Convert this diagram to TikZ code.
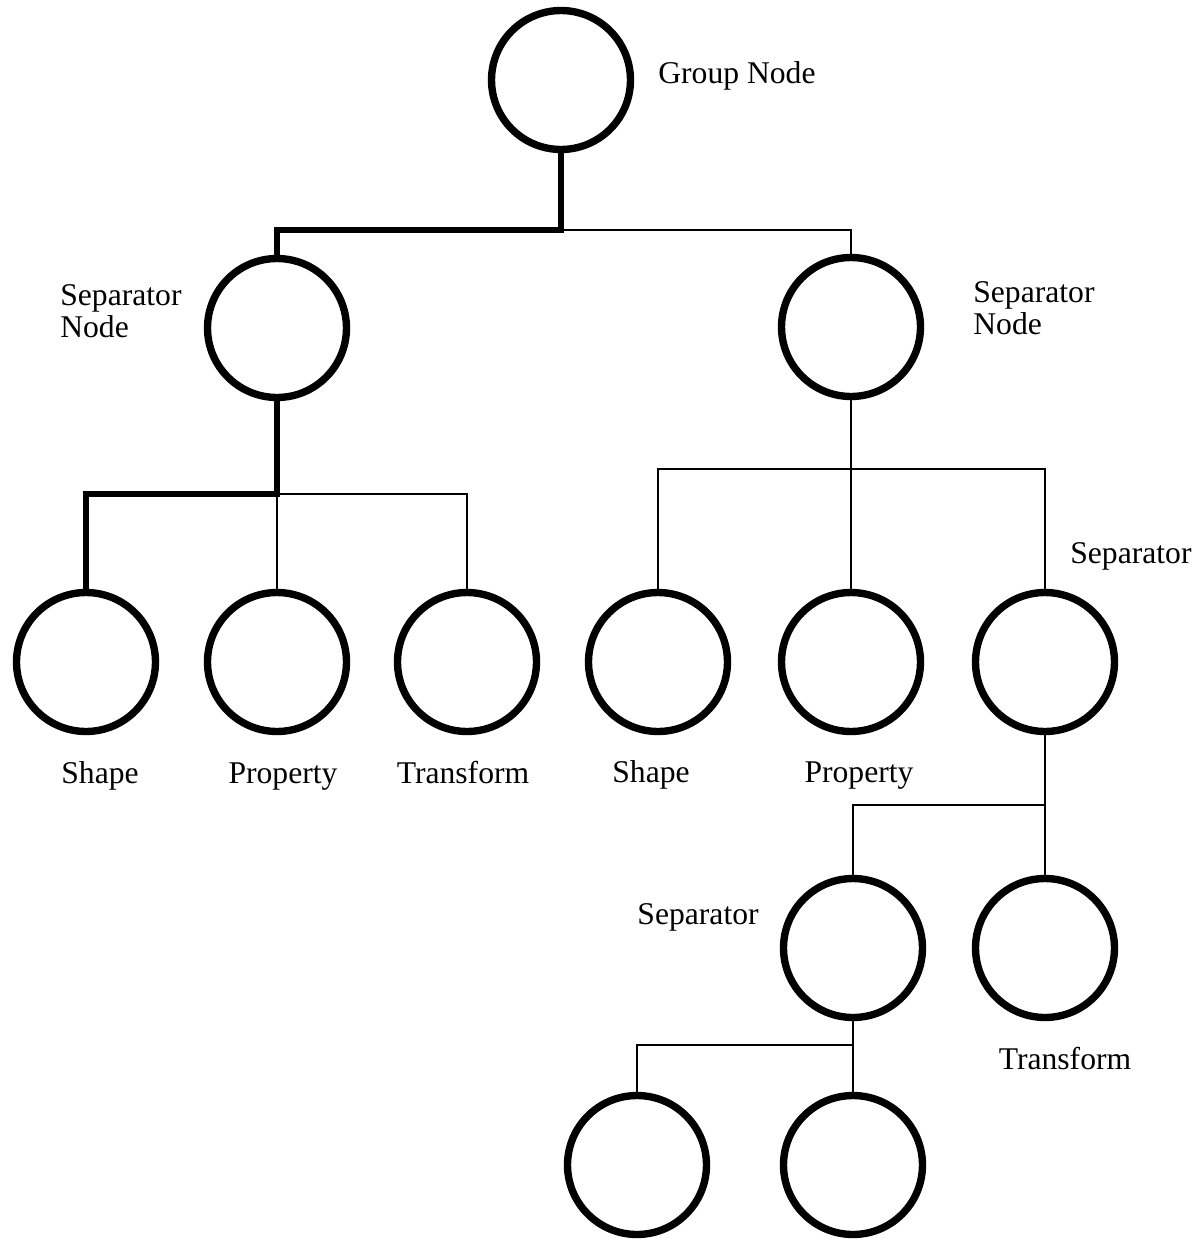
\documentclass[tikz,border=0pt]{standalone}
\usepackage{fontspec}
\setmainfont{Liberation Serif}
\usetikzlibrary{positioning}
\tikzset{
    treenode/.style={circle,draw,line width=4.2pt,minimum size=2.78cm,inner sep=0pt},
    link/.style={line width=1.1pt},
    boldlink/.style={line width=3.4pt},
    lbl/.style={font=\fontsize{18}{18}\selectfont,align=left,inner sep=0pt}
}
\begin{document}
\begin{tikzpicture}[x=0.02cm,y=-0.02cm]
        \useasboundingbox (0,0) rectangle (1201,1241);
        %% tree nodes
        \node[treenode] (grp)  at (561,80)  {};
        \node[treenode] (sepl) at (277,328) {};
        \node[treenode] (sepr) at (851,327) {};
        \foreach \n/\x in {a1/86,a2/277,a3/467,b1/658,b2/851,b3/1045}
            \node[treenode] (\n) at (\x,662) {};
        \node[treenode] (c1) at (853,948)  {};
        \node[treenode] (c2) at (1045,948) {};
        \node[treenode] (d1) at (637,1165) {};
        \node[treenode] (d2) at (853,1165) {};
        %% junctions
        \coordinate (j0) at (561,230);
        \coordinate (j1) at (277,494);
        \coordinate (j2) at (851,469);
        \coordinate (j3) at (1045,805);
        \coordinate (j4) at (853,1045);
        %% connectors (traversal path in bold)
        \draw[boldlink] (grp.south) -- (j0) -| (sepl.north);
        \draw[link] (j0) -| (sepr.north);
        \draw[boldlink] (sepl.south) -- (j1) -| (a1.north);
        \draw[link] (j1) -- (a2.north);
        \draw[link] (j1) -| (a3.north);
        \draw[link] (sepr.south) -- (b2.north);
        \draw[link] (b1.north) |- (j2) -| (b3.north);
        \draw[link] (b3.south) -- (c2.north);
        \draw[link] (j3) -| (c1.north);
        \draw[link] (c1.south) -- (d2.north);
        \draw[link] (j4) -| (d1.north);
        %% labels
        \node[lbl,anchor=west] (tgrp) at (658,76) {Group Node};
        \node[lbl,anchor=west] (tsepl) at (60,311) {Separator\\Node};
        \node[lbl,anchor=west] (tsepr) at (973,308) {Separator\\Node};
        \node[lbl,anchor=west] (tb3) at (1070,556) {Separator};
        \foreach \n/\x/\t in {ta1/100/Shape,ta2/283/Property,ta3/463/Transform}
            \node[lbl,anchor=base] (\n) at (\x,783) {\t};
        \foreach \n/\x/\t in {tb1/651/Shape,tb2/859/Property}
            \node[lbl,anchor=base] (\n) at (\x,782) {\t};
        \node[lbl,anchor=east] (tc1) at (759,917) {Separator};
        \node[lbl] (tc2) at (1065,1059) {Transform};
    \end{tikzpicture}
\end{document}
